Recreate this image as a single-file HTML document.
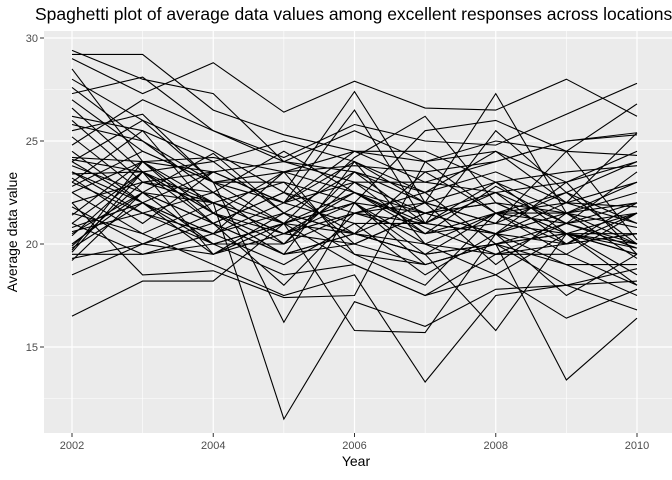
<!DOCTYPE html>
<html><head><meta charset="utf-8">
<style>
html,body{margin:0;padding:0;background:#fff;}
svg{display:block;font-family:"Liberation Sans",Arial,sans-serif;}
</style></head>
<body>
<svg id="chart" width="672" height="480" viewBox="0 0 672 480">
  <text x="35" y="20" font-size="17.5" fill="#000">Spaghetti plot of average data values among excellent responses across locations</text>
  <rect x="44" y="31" width="628" height="402" fill="#ebebeb"/>
  <g id="grid"></g>
  <g id="lines"></g>
  <g id="axes"></g>
  <text x="356" y="466" font-size="14" text-anchor="middle" fill="#000">Year</text>
  <text transform="translate(17,232) rotate(-90)" font-size="14" text-anchor="middle" fill="#000">Average data value</text>
</svg>
<script>
const years = [2002,2003,2004,2005,2006,2007,2008,2009,2010];
const xTicks = [2002,2004,2006,2008,2010];
const yTicks = [15,20,25,30];
const series = [
[29.4,28.0,27.3,24.0,23.5,21.0,20.5,21.5,20.0],
[29.2,29.2,26.5,25.3,24.5,24.0,24.5,23.0,24.0],
[29.0,27.3,28.8,26.4,27.9,26.6,26.5,28.0,26.2],
[28.5,24.0,21.5,20.0,23.0,21.5,22.0,20.5,19.5],
[28.0,26.0,24.5,22.5,27.4,22.0,27.3,21.5,20.8],
[27.6,25.0,23.0,21.0,22.5,21.0,22.5,20.0,22.0],
[27.3,28.1,25.5,24.2,25.8,25.0,24.8,26.3,27.8],
[27.0,24.5,23.0,16.2,22.0,19.0,20.0,21.0,19.8],
[26.6,23.5,21.5,20.5,22.0,21.5,20.5,19.0,17.5],
[26.0,23.0,22.0,11.5,17.2,16.0,17.8,18.0,18.2],
[25.5,26.3,23.0,22.0,24.5,23.0,24.0,25.0,25.4],
[25.2,22.5,24.4,21.5,23.5,22.5,23.5,22.0,23.0],
[24.8,27.0,25.5,24.0,25.5,24.0,25.0,24.5,26.8],
[24.2,24.0,23.5,22.0,24.0,22.0,21.0,20.5,21.5],
[24.1,23.5,21.0,19.5,20.5,20.0,19.5,21.0,22.0],
[24.0,22.0,20.5,19.0,21.0,18.5,20.5,17.5,19.5],
[23.8,22.5,22.0,20.5,20.0,21.5,22.5,21.0,20.0],
[23.4,23.5,24.0,25.0,24.0,22.5,24.5,22.0,25.4],
[23.2,21.0,23.5,22.0,23.0,20.5,21.0,22.5,21.0],
[23.0,25.5,21.5,23.5,19.5,19.0,20.0,20.5,18.5],
[23.0,21.5,20.0,18.5,19.0,17.5,18.5,16.4,17.8],
[22.8,24.5,23.0,23.5,24.5,24.5,23.0,23.5,23.8],
[22.5,20.5,19.0,17.5,18.5,13.3,17.5,18.0,16.8],
[22.0,23.0,22.5,21.0,22.0,20.0,21.5,20.0,21.5],
[21.8,20.0,21.0,22.5,21.5,21.0,23.0,21.5,22.5],
[21.4,24.0,22.0,23.0,20.0,21.5,20.5,20.0,20.5],
[21.0,19.5,20.0,20.0,23.5,22.0,21.0,24.5,20.2],
[20.8,22.0,19.5,21.5,20.5,19.5,20.0,19.0,19.0],
[20.6,21.5,22.5,24.5,22.5,20.5,22.8,21.0,23.5],
[20.4,23.5,19.5,20.5,21.5,22.0,19.0,21.5,19.3],
[20.0,22.5,21.0,19.5,24.0,20.0,18.5,20.5,18.0],
[19.9,23.0,23.5,22.0,26.5,21.0,25.5,22.5,24.0],
[19.8,22.0,20.5,21.5,19.5,18.0,21.5,22.5,20.0],
[19.7,24.0,24.2,23.5,23.8,23.5,24.0,25.0,25.3],
[19.6,23.5,22.0,20.5,22.5,21.5,22.0,21.5,22.0],
[19.5,19.5,20.5,22.0,21.0,21.0,20.5,22.0,21.0],
[19.3,20.0,21.5,19.5,20.0,19.0,20.0,13.4,16.4],
[19.2,22.5,21.0,18.0,21.5,20.5,21.5,19.5,21.5],
[18.5,20.0,19.5,21.0,20.5,19.5,15.8,20.5,19.8],
[16.5,18.2,18.2,21.0,15.8,15.7,20.5,23.0,19.5],
[24.0,26.0,23.0,23.0,22.0,25.5,26.0,24.5,24.3],
[22.5,24.0,21.0,22.5,20.5,22.0,23.0,20.5,20.0],
[23.5,22.0,20.0,21.0,22.0,19.5,20.0,18.0,18.8],
[21.5,20.5,22.0,21.0,19.0,17.5,19.5,20.0,20.5],
[26.2,25.5,24.0,21.5,20.5,23.5,21.5,22.0,21.8],
[22.0,18.5,18.7,17.4,17.5,24.0,21.5,21.5,23.0],
[20.5,22.5,20.0,21.0,24.2,26.2,22.0,20.5,20.5],
[24.5,22.0,23.5,24.0,23.0,23.0,22.5,23.0,24.5],
[21.0,23.5,21.5,19.5,20.5,19.5,21.5,21.0,21.5],
[25.8,25.0,22.5,20.0,21.5,22.5,20.0,20.5,19.5],
[23.5,21.5,20.5,23.5,22.5,20.8,19.5,19.5,18.0]
];
const NS="http://www.w3.org/2000/svg";
const xS = y => 72 + (y-2002)*(637-72)/8;
const yS = v => 244 - (v-20)*(347-244)/5;
const grid=document.getElementById('grid'), lines=document.getElementById('lines'), axes=document.getElementById('axes');
function mk(tag,attrs,parent){const e=document.createElementNS(NS,tag);for(const k in attrs)e.setAttribute(k,attrs[k]);parent.appendChild(e);return e;}
for(let v=12.5; v<=30; v+=5){
  const l=mk('line',{x1:44,x2:672,y1:yS(v),y2:yS(v),stroke:'#fff','stroke-width':0.6},grid);
  
  
}
for(let y=2003; y<=2011; y+=2){
  const l=mk('line',{x1:xS(y),x2:xS(y),y1:31,y2:433,stroke:'#fff','stroke-width':0.6},grid);
  
  
}
yTicks.forEach(v=>{
  const l=mk('line',{x1:44,x2:672,y1:yS(v),y2:yS(v),stroke:'#fff','stroke-width':1.2},grid);
  
  
  const t=mk('line',{x1:40,x2:44,y1:yS(v),y2:yS(v),stroke:'#333','stroke-width':1},axes);
  
  
  const tx=mk('text',{x:38,y:yS(v)+4,'font-size':11,'text-anchor':'end',fill:'#4d4d4d'},axes);
  tx.textContent=v;
  
  
});
xTicks.forEach(y=>{
  const l=mk('line',{x1:xS(y),x2:xS(y),y1:31,y2:433,stroke:'#fff','stroke-width':1.2},grid);
  
  
  const t=mk('line',{x1:xS(y),x2:xS(y),y1:433,y2:437,stroke:'#333','stroke-width':1},axes);
  
  
  const tx=mk('text',{x:xS(y),y:449,'font-size':11,'text-anchor':'middle',fill:'#4d4d4d'},axes);
  tx.textContent=y;
  
  
});
series.forEach((s,i)=>{
  const p=mk('polyline',{points:s.map((v,j)=>xS(years[j])+','+yS(v)).join(' '),fill:'none',stroke:'#000','stroke-width':1.1},lines);
  
  
});
</script>
</body></html>
